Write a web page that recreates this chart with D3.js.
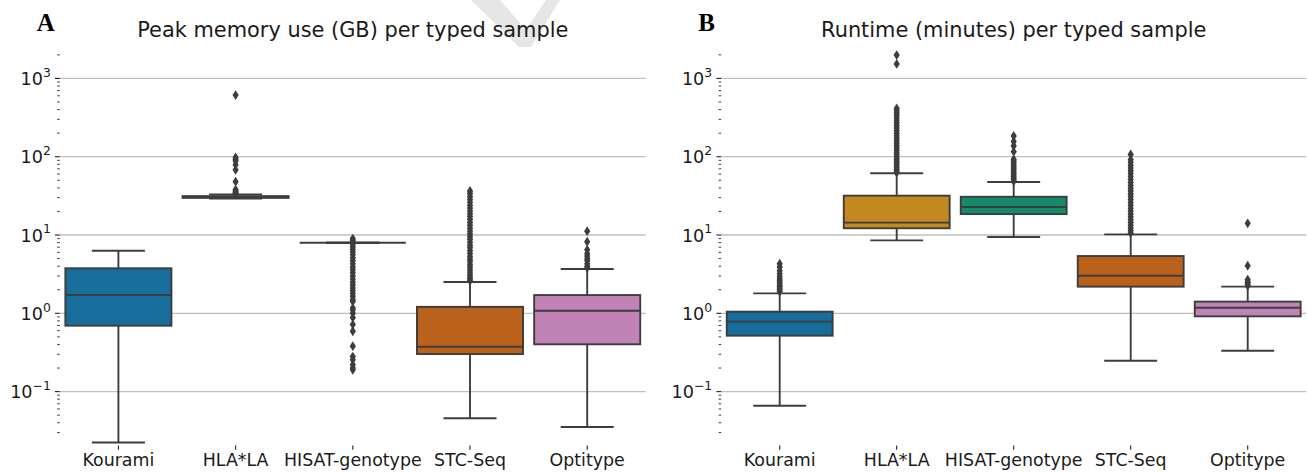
<!DOCTYPE html>
<html>
<head>
<meta charset="utf-8">
<script src="https://cdn.jsdelivr.net/npm/d3@7"></script>
<style>
  html, body { margin: 0; padding: 0; background: #ffffff; }
  svg { display: block; }
  text { font-family: "DejaVu Sans", sans-serif; fill: #1a1a1a; }
</style>
</head>
<body>
<svg id="chart" width="1307" height="472"></svg>
<script>
// Tools shown on the x axis of both panels
const categories = ["Kourami", "HLA*LA", "HISAT-genotype", "STC-Seq", "Optitype"];

// Box colours (seaborn colorblind palette, desaturated)
const boxColors = ["#176d9c", "#c38820", "#158b6b", "#ba611b", "#c183b5"];

// Panel A: peak memory use (GB) — five-number summaries per tool
const memWhiskerLow  = [0.0224, 29.2, 7.95, 0.0456, 0.0353];
const memQ1          = [0.695, 29.8, 7.95, 0.302, 0.402];
const memMedian      = [1.71, 30.5, 7.95, 0.374, 1.08];
const memQ3          = [3.76, 31.4, 7.95, 1.21, 1.71];
const memWhiskerHigh = [6.3, 33.0, 7.95, 2.51, 3.68];
const memOutliers = [
  [],
  [612, 98, 92, 88, 79, 68, 48, 38, 36.5, 35.5, 34.5, 34],
  [9.0, 8.6, 8.2, 7.6, 7.1, 6.6, 6.1, 5.6, 5.1, 4.7, 4.3, 3.9, 3.6, 3.3, 3.0, 2.75, 2.5, 2.3,
   2.1, 1.95, 1.8, 1.65, 1.5, 1.42, 1.17, 1.1, 1.0, 0.88, 0.72, 0.59, 0.38, 0.28, 0.255, 0.22, 0.2, 0.19],
  [2.6, 2.75, 2.9, 3.1, 3.35, 3.6, 3.9, 4.2, 4.6, 4.9, 5.3, 5.8, 6.3, 6.9, 7.4, 8.1, 8.8, 9.5,
   10.3, 11.2, 12.2, 13.3, 14.5, 15.8, 17.2, 18.7, 20.3, 22.1, 24.0, 26.2, 28.5, 31.0, 33.8, 36.5],
  [11.2, 8.2, 6.5, 5.8, 5.4, 5.0, 4.7, 4.3, 4.0, 3.8]
];

// Panel B: runtime (minutes) — five-number summaries per tool
const runWhiskerLow  = [0.066, 8.55, 9.43, 0.248, 0.333];
const runQ1          = [0.518, 12.2, 18.5, 2.19, 0.915];
const runMedian      = [0.782, 14.4, 22.8, 3.02, 1.18];
const runQ3          = [1.05, 31.8, 30.8, 5.39, 1.41];
const runWhiskerHigh = [1.80, 61.4, 47.5, 10.2, 2.19];
const runOutliers = [
  [4.3, 3.9, 3.5, 3.2, 2.95, 2.75, 2.6, 2.45, 2.3, 2.2, 2.1, 2.0, 1.9],
  [1990, 1530, 415, 390, 365, 340, 315, 292, 270, 250, 232, 215, 199, 185, 172, 160, 149, 139,
   130, 121, 113, 106, 99, 93, 87, 82, 77, 72.5, 68.5, 65, 62.5],
  [184, 156, 137, 116, 93, 88, 83, 78, 74, 70, 66, 62, 59, 56, 53, 50.5, 48.5],
  [107, 92, 85, 78, 72, 66, 61, 56, 51, 47, 43, 39.5, 36.5, 33.5, 31, 28.5, 26, 24, 22, 20.2,
   18.6, 17.1, 15.7, 14.5, 13.3, 12.3, 11.4, 10.6],
  [14.1, 4.05, 2.7, 2.55, 2.45, 2.35, 2.25]
];

// Shared log y axis
const yDomain = [0.0208, 2520];
const majorTicks = [0.1, 1, 10, 100, 1000];
const exponentLabels = ["\u22121", "0", "1", "2", "3"];

const svg = d3.select("#chart");
const lineColor = "#3d3d3d";
const plotTop = 47, plotBottom = 445;

const y = d3.scaleLog().domain(yDomain).range([plotBottom, plotTop]);

const minorTicks = [];
for (let k = -2; k <= 3; k++) {
  for (let m = 2; m <= 9; m++) {
    const v = m * Math.pow(10, k);
    if (v >= yDomain[0] && v <= yDomain[1]) minorTicks.push(v);
  }
}

function drawPanel(opts) {
  const { left, right, letter, title, low, q1, med, q3, high, outliers } = opts;
  const g = svg.append("g");

  const x = d3.scaleBand().domain(categories).range([left, right]).paddingInner(0).paddingOuter(0);
  const bw = x.bandwidth();
  const boxW = bw * 0.905;
  const capW = boxW / 2;

  // horizontal grid
  g.append("g").selectAll("line").data(majorTicks).join("line")
    .attr("x1", left).attr("x2", right)
    .attr("y1", d => y(d)).attr("y2", d => y(d))
    .attr("stroke", "#bfbfbf").attr("stroke-width", 1.3);

  // y ticks
  g.append("g").selectAll("line").data(majorTicks).join("line")
    .attr("x1", left - 4.8).attr("x2", left)
    .attr("y1", d => y(d)).attr("y2", d => y(d))
    .attr("stroke", "#222").attr("stroke-width", 1.1);
  g.append("g").selectAll("line").data(minorTicks).join("line")
    .attr("x1", left - 2.6).attr("x2", left)
    .attr("y1", d => y(d)).attr("y2", d => y(d))
    .attr("stroke", "#222").attr("stroke-width", 0.9);

  // y tick labels as 10^k
  const lbl = g.append("g").selectAll("text").data(majorTicks).join("text")
    .attr("x", left - 9).attr("y", d => y(d) + 6.7)
    .attr("text-anchor", "end").style("font-size", "17.6px");
  lbl.append("tspan").text("10");
  lbl.append("tspan").attr("dy", -8.3).style("font-size", "12.4px")
    .text((d, i) => exponentLabels[i]);

  // x ticks and labels
  g.append("g").selectAll("line").data(categories).join("line")
    .attr("x1", d => x(d) + bw / 2).attr("x2", d => x(d) + bw / 2)
    .attr("y1", plotBottom + 0.5).attr("y2", plotBottom + 4.8)
    .attr("stroke", "#222").attr("stroke-width", 1.1);
  g.append("g").selectAll("text").data(categories).join("text")
    .attr("x", d => x(d) + bw / 2).attr("y", 466)
    .attr("text-anchor", "middle").style("font-size", "17.4px")
    .text(d => d);

  // boxes
  const rows = categories.map((c, i) => ({
    c, i, low: low[i], q1: q1[i], med: med[i], q3: q3[i], high: high[i], out: outliers[i]
  }));
  const bg = g.append("g");
  rows.forEach(r => {
    const cx = x(r.c) + bw / 2;
    bg.append("rect")
      .attr("x", cx - boxW / 2).attr("width", boxW)
      .attr("y", y(r.q3)).attr("height", Math.max(0, y(r.q1) - y(r.q3)))
      .attr("fill", boxColors[r.i]).attr("stroke", lineColor).attr("stroke-width", 1.9);
    // whiskers
    bg.append("line").attr("x1", cx).attr("x2", cx)
      .attr("y1", y(r.q3)).attr("y2", y(r.high))
      .attr("stroke", lineColor).attr("stroke-width", 1.9);
    bg.append("line").attr("x1", cx).attr("x2", cx)
      .attr("y1", y(r.q1)).attr("y2", y(r.low))
      .attr("stroke", lineColor).attr("stroke-width", 1.9);
    // caps
    [r.low, r.high].forEach(v => {
      bg.append("line").attr("x1", cx - capW / 2).attr("x2", cx + capW / 2)
        .attr("y1", y(v)).attr("y2", y(v))
        .attr("stroke", lineColor).attr("stroke-width", 1.9);
    });
    // median
    bg.append("line").attr("x1", cx - boxW / 2).attr("x2", cx + boxW / 2)
      .attr("y1", y(r.med)).attr("y2", y(r.med))
      .attr("stroke", lineColor).attr("stroke-width", 1.9);
    // fliers (thin diamonds)
    bg.append("g").selectAll("path").data(r.out).join("path")
      .attr("d", v => {
        const py = y(v);
        return `M${cx},${py - 4.9}L${cx + 3.1},${py}L${cx},${py + 4.9}L${cx - 3.1},${py}Z`;
      })
      .attr("fill", lineColor);
  });

  // title and panel letter
  g.append("text").attr("x", (left + right) / 2).attr("y", 37)
    .attr("text-anchor", "middle").style("font-size", "20.9px").text(title);
  g.append("text").attr("x", left - 23).attr("y", 30.5)
    .style("font-family", "'Liberation Serif', 'DejaVu Serif', serif")
    .style("font-weight", "bold").style("font-size", "25px").style("fill", "#000")
    .text(letter);
}

// faint watermark stroke near the top of panel A
svg.append("path")
  .attr("d", "M471,0L500,0L526,30L546,0L560,0L531,47L519,47Z")
  .attr("fill", "#e6e6e6");

drawPanel({
  left: 59.8, right: 645.8, letter: "A",
  title: "Peak memory use (GB) per typed sample",
  low: memWhiskerLow, q1: memQ1, med: memMedian, q3: memQ3, high: memWhiskerHigh, outliers: memOutliers
});
drawPanel({
  left: 721.2, right: 1306.2, letter: "B",
  title: "Runtime (minutes) per typed sample",
  low: runWhiskerLow, q1: runQ1, med: runMedian, q3: runQ3, high: runWhiskerHigh, outliers: runOutliers
});
</script>
</body>
</html>
